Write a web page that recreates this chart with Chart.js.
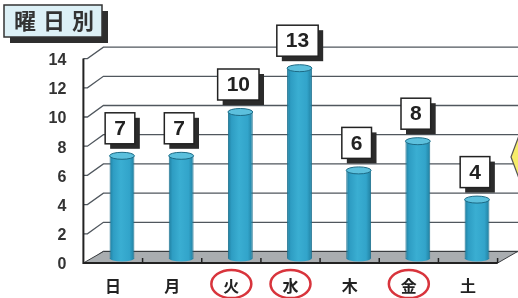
<!DOCTYPE html>
<html>
<head>
<meta charset="utf-8">
<script src="https://cdn.jsdelivr.net/npm/chart.js@4"></script>
<style>
  html, body { margin: 0; padding: 0; background: #fff; }
  canvas { display: block; }
</style>
</head>
<body>
<canvas id="chart" width="518" height="298"></canvas>
<script>
// Chart data
const days = ['日', '月', '火', '水', '木', '金', '土'];
const counts = [7, 7, 10, 13, 6, 8, 4];
const yRange = [0, 14];
const yStep = 2;
const circledDays = ['火', '水', '金'];
const title = ['曜', '日', '別'];

const BAR_PCT = 0.42;

// Cylinder shading across one bar
function cylinderGradient(g, cx, w) {
    const grad = g.createLinearGradient(cx - w / 2, 0, cx + w / 2, 0);
    grad.addColorStop(0, '#1f7d9e');
    grad.addColorStop(0.15, '#2e9dc3');
    grad.addColorStop(0.45, '#3aaed2');
    grad.addColorStop(0.8, '#32a4ca');
    grad.addColorStop(1, '#207fa0');
    return grad;
}

function barFill(ctx) {
    const chart = ctx.chart;
    const xs = chart.scales.x;
    if (!xs || !chart.chartArea) return '#33a6cb';
    const cx = xs.getPixelForValue(ctx.dataIndex);
    const w = (xs.width / days.length) * BAR_PCT;
    return cylinderGradient(chart.ctx, cx, w);
}

// 3D-ish offsets: front plane and back wall
const FRONT = { dx: -9, dy: 5 };
const BACK = { dx: 11, dy: -6.5 };

const pseudo3d = {
    id: 'pseudo3d',
    beforeDatasetsDraw(chart) {
        const g = chart.ctx;
        const ys = chart.scales.y;
        const area = chart.chartArea;
        const left = area.left, right = area.right;
        g.save();

        // back gridlines + slanted connectors
        g.strokeStyle = '#50575e';
        g.lineWidth = 1.3;
        for (let v = yRange[0]; v <= yRange[1]; v += yStep) {
            const y = ys.getPixelForValue(v);
            g.beginPath();
            g.moveTo(left + FRONT.dx, y + FRONT.dy);
            g.lineTo(left + FRONT.dx + 4, y + FRONT.dy);
            g.lineTo(left + BACK.dx, y + BACK.dy);
            g.lineTo(chart.width, y + BACK.dy);
            g.stroke();
        }

        // floor
        const y0 = ys.getPixelForValue(0);
        g.beginPath();
        g.moveTo(left + FRONT.dx, y0 + FRONT.dy);
        g.lineTo(right + FRONT.dx, y0 + FRONT.dy);
        g.lineTo(right + BACK.dx, y0 + BACK.dy);
        g.lineTo(left + BACK.dx, y0 + BACK.dy);
        g.closePath();
        g.fillStyle = '#a9adb0';
        g.fill();
        g.strokeStyle = '#3a3d40';
        g.lineWidth = 1;
        g.stroke();

        // front y axis
        g.strokeStyle = '#222';
        g.lineWidth = 2;
        g.beginPath();
        g.moveTo(left + FRONT.dx, ys.getPixelForValue(yRange[1]) + FRONT.dy);
        g.lineTo(left + FRONT.dx, y0 + FRONT.dy);
        g.lineTo(right + FRONT.dx, y0 + FRONT.dy);
        g.stroke();

        // front category ticks
        const step = chart.scales.x.width / days.length;
        g.lineWidth = 1.5;
        for (let k = 1; k <= days.length; k++) {
            const x = left + k * step + FRONT.dx;
            g.beginPath();
            g.moveTo(x, y0 + FRONT.dy);
            g.lineTo(x, y0 + FRONT.dy - 5);
            g.stroke();
        }
        g.restore();
    },
    afterDatasetsDraw(chart) {
        const g = chart.ctx;
        const meta = chart.getDatasetMeta(0);
        const base = chart.scales.y.getPixelForValue(0);
        g.save();
        meta.data.forEach((bar, i) => {
            const w = bar.width;
            // rounded bottom
            g.beginPath();
            g.ellipse(bar.x, base, w / 2, 3.5, 0, 0, Math.PI);
            g.fillStyle = cylinderGradient(g, bar.x, w);
            g.fill();
            // top cap
            g.beginPath();
            g.ellipse(bar.x, bar.y, w / 2, 3.5, 0, 0, Math.PI * 2);
            g.fillStyle = '#5cc0dd';
            g.fill();
            g.strokeStyle = '#1d6a85';
            g.lineWidth = 1;
            g.stroke();

            // value box with drop shadow
            const text = String(counts[i]);
            g.font = 'bold 21px "Liberation Sans", Arial, sans-serif';
            const tw = g.measureText(text).width;
            const bw = tw + 18, bh = 31;
            const bx = bar.x - 2 - bw / 2;
            const by = bar.y - 12 - bh;
            g.fillStyle = '#2b2b2b';
            g.fillRect(bx + 5, by + 5, bw, bh);
            g.fillStyle = '#fff';
            g.fillRect(bx, by, bw, bh);
            g.strokeStyle = '#222';
            g.lineWidth = 1.5;
            g.strokeRect(bx, by, bw, bh);
            g.fillStyle = '#222';
            g.textAlign = 'center';
            g.textBaseline = 'middle';
            g.fillText(text, bx + bw / 2, by + bh / 2 + 1);
        });
        g.restore();
    },
    afterDraw(chart) {
        const g = chart.ctx;
        const xs = chart.scales.x;
        g.save();

        // circled weekday labels
        g.strokeStyle = '#d8343c';
        g.lineWidth = 2.5;
        days.forEach((d, i) => {
            if (!circledDays.includes(d)) return;
            const x = xs.getPixelForValue(i) + FRONT.dx;
            g.beginPath();
            g.ellipse(x, 284, 20, 14, 0, 0, Math.PI * 2);
            g.stroke();
        });

        // title box
        g.fillStyle = '#2e2e2e';
        g.fillRect(10, 11, 98, 32);
        g.fillStyle = '#dcf0f6';
        g.fillRect(4, 5, 98, 32);
        g.strokeStyle = '#333';
        g.lineWidth = 1.5;
        g.strokeRect(4, 5, 98, 32);
        g.fillStyle = '#333';
        g.font = 'bold 22px "Noto Sans CJK JP", sans-serif';
        g.textAlign = 'center';
        g.textBaseline = 'middle';
        title.forEach((ch, i) => g.fillText(ch, 25 + i * 29, 21));

        // partly hidden yellow marker at the right edge
        g.beginPath();
        g.moveTo(511, 157);
        g.lineTo(520, 133);
        g.lineTo(520, 181);
        g.closePath();
        g.fillStyle = '#f6ec6a';
        g.fill();
        g.strokeStyle = '#555';
        g.lineWidth = 1.2;
        g.stroke();
        g.restore();
    }
};

new Chart(document.getElementById('chart'), {
    type: 'bar',
    data: {
        labels: days,
        datasets: [{
            data: counts,
            backgroundColor: barFill,
            borderColor: '#1f7290',
            borderWidth: 1,
            barPercentage: BAR_PCT,
            categoryPercentage: 1
        }]
    },
    options: {
        responsive: false,
        animation: false,
        devicePixelRatio: 1,
        layout: {
            padding: { top: 53.6, right: 11.4, left: 0, bottom: 0 }
        },
        plugins: {
            legend: { display: false },
            tooltip: { enabled: false }
        },
        scales: {
            x: {
                grid: { display: false, drawTicks: false },
                border: { display: false },
                ticks: {
                    color: '#222',
                    font: { family: '"Noto Sans CJK JP", sans-serif', size: 16, weight: 'bold' },
                    padding: 18,
                    labelOffset: FRONT.dx,
                    maxRotation: 0
                },
                afterFit: s => { s.height = 40; }
            },
            y: {
                min: yRange[0],
                max: yRange[1],
                grid: { display: false, drawTicks: false },
                border: { display: false },
                ticks: {
                    stepSize: yStep,
                    color: '#333',
                    font: { family: '"Liberation Sans", Arial, sans-serif', size: 16, weight: 'bold' },
                    padding: 26,
                    labelOffset: 7
                },
                afterFit: s => { s.width = 92.4; }
            }
        }
    },
    plugins: [pseudo3d]
});
</script>
</body>
</html>
